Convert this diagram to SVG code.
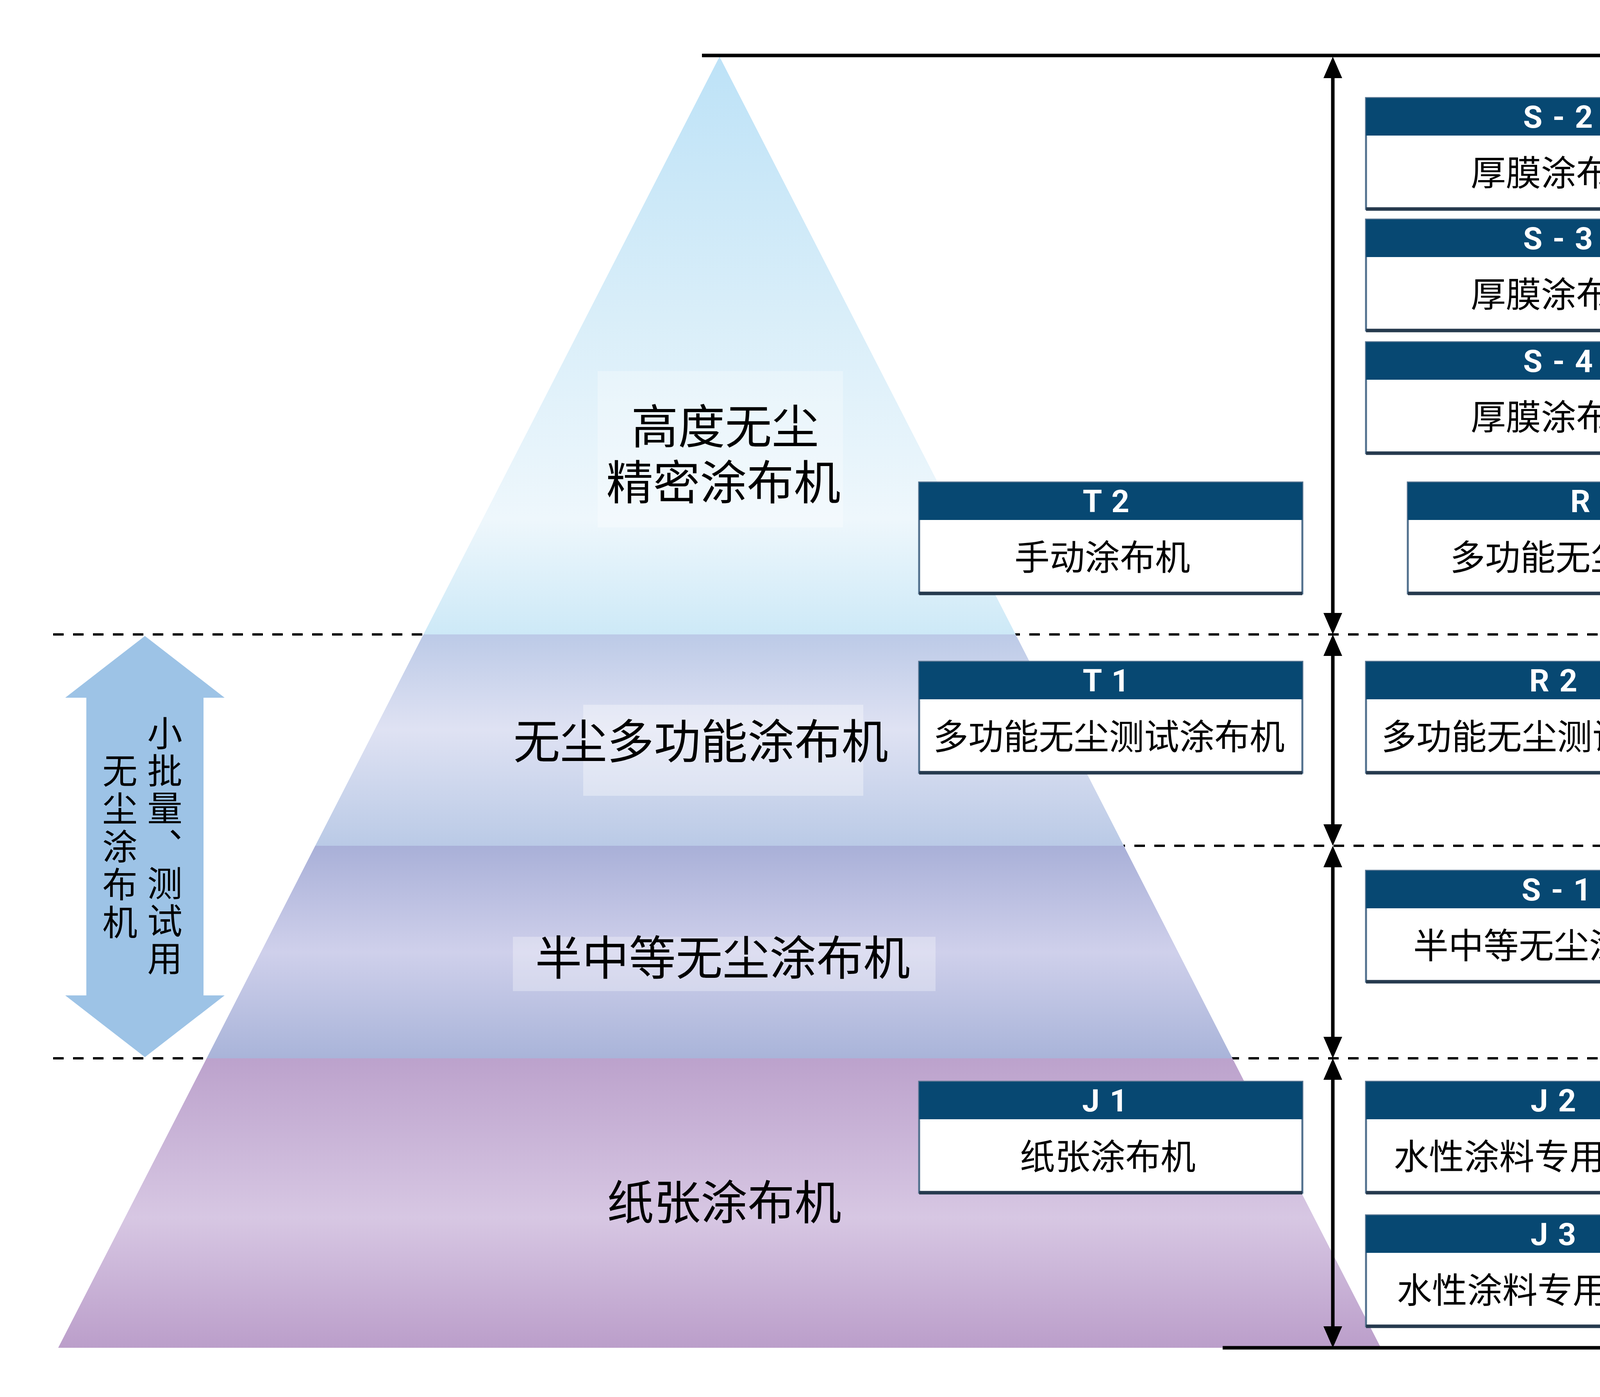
<svg xmlns="http://www.w3.org/2000/svg" width="4730" height="3576" viewBox="0 0 4730 3576">
<style>
.cn{font-family:"Noto Sans CJK SC","Noto Sans",sans-serif;fill:#000}
.lbl{font-size:120px;text-anchor:middle}
.vt{font-size:90px;writing-mode:vertical-rl;text-anchor:start}
.body{fill:#ffffff;stroke:#52718e;stroke-width:5}
.hdr{fill:#074872}
.shadow{stroke:#263a4e;stroke-width:9}
.hl{font-family:Roboto,"Open Sans","Liberation Sans",sans-serif;font-weight:bold;font-size:80px;letter-spacing:3px;fill:#ffffff;text-anchor:middle}
.bl{font-family:"Noto Sans CJK SC","Noto Sans",sans-serif;font-size:90px;fill:#000;text-anchor:middle}
.dash{stroke:#000;stroke-width:6;stroke-dasharray:27 24;fill:none}
.solid{stroke:#000;stroke-width:9;fill:none}
.varrow{stroke:#000;stroke-width:9;fill:none;marker-start:url(#ah);marker-end:url(#ah)}
</style>
<defs>
<marker id="ah" viewBox="0 0 55 48" refX="35" refY="24" markerWidth="55" markerHeight="48" markerUnits="userSpaceOnUse" orient="auto-start-reverse">
<path d="M0,0 L55,24 L0,48 Z" fill="#000"/>
</marker>
<linearGradient id="g1" gradientUnits="userSpaceOnUse" x1="0" y1="145" x2="0" y2="1624">
<stop offset="0" stop-color="#bde2f7"/>
<stop offset="0.45" stop-color="#d9eef9"/>
<stop offset="0.8" stop-color="#eef7fc"/>
<stop offset="1" stop-color="#cde9f7"/>
</linearGradient>
<linearGradient id="g2" gradientUnits="userSpaceOnUse" x1="0" y1="1624" x2="0" y2="2165">
<stop offset="0" stop-color="#bccae7"/>
<stop offset="0.45" stop-color="#dfe2f3"/>
<stop offset="1" stop-color="#bacae6"/>
</linearGradient>
<linearGradient id="g3" gradientUnits="userSpaceOnUse" x1="0" y1="2165" x2="0" y2="2709">
<stop offset="0" stop-color="#a9b0d8"/>
<stop offset="0.5" stop-color="#cfd0eb"/>
<stop offset="1" stop-color="#a9b4d9"/>
</linearGradient>
<linearGradient id="g4" gradientUnits="userSpaceOnUse" x1="0" y1="2709" x2="0" y2="3450">
<stop offset="0" stop-color="#bca2cc"/>
<stop offset="0.55" stop-color="#d7c7e3"/>
<stop offset="1" stop-color="#bb9eca"/>
</linearGradient>
</defs>
<rect width="4730" height="3576" fill="#ffffff"/>

<g id="dividers">
<line class="dash" x1="136" y1="1624" x2="4592" y2="1624"/>
<line class="dash" x1="2700" y1="2165" x2="4592" y2="2165"/>
<line class="dash" x1="136" y1="2709" x2="4592" y2="2709"/>
</g>

<g id="pyramid">
<g id="layer-1">
<polygon points="1842,145 2600,1624 1084,1624" fill="url(#g1)"/>
<rect x="1530" y="950" width="628" height="400" fill="#ffffff" opacity="0.3"/>
<text class="cn lbl" x="1856" y="1136">高度无尘<tspan x="1852" dy="143">精密涂布机</tspan></text>
</g>
<g id="layer-2">
<polygon points="1084,1624 2600,1624 2877,2165 807,2165" fill="url(#g2)"/>
<rect x="1493" y="1804" width="717" height="233" fill="#ffffff" opacity="0.35"/>
<text class="cn lbl" x="1794" y="1942">无尘多功能涂布机</text>
</g>
<g id="layer-3">
<polygon points="807,2165 2877,2165 3155,2709 529,2709" fill="url(#g3)"/>
<rect x="1313" y="2398" width="1082" height="139" fill="#ffffff" opacity="0.3"/>
<text class="cn lbl" x="1850" y="2496">半中等无尘涂布机</text>
</g>
<g id="layer-4">
<polygon points="529,2709 3155,2709 3535,3450 149,3450" fill="url(#g4)"/>
<text class="cn lbl" x="1854" y="3122">纸张涂布机</text>
</g>
</g>

<g id="side-arrow">
<polygon points="371,1628 575,1786 521,1786 521,2548 575,2548 371,2706 167,2548 221,2548 221,1786 167,1786" fill="#9dc3e6"/>
<text class="cn vt" x="422" y="1831" style="letter-spacing:6px">小批量、测试用</text>
<text class="cn vt" x="307" y="1927" style="letter-spacing:7px">无尘涂布机</text>
</g>

<g id="box-s2">
<rect class="body" x="3497" y="251" width="982" height="284"/>
<rect class="hdr" x="3497" y="251" width="982" height="96"/>
<line class="shadow" x1="3497" y1="535" x2="4479" y2="535"/>
<text class="hl" x="3990" y="327">S - 2</text>
<text class="bl" x="3990" y="475">厚膜涂布机</text>
</g>
<g id="box-s3">
<rect class="body" x="3497" y="562" width="982" height="284"/>
<rect class="hdr" x="3497" y="562" width="982" height="96"/>
<line class="shadow" x1="3497" y1="846" x2="4479" y2="846"/>
<text class="hl" x="3990" y="638">S - 3</text>
<text class="bl" x="3990" y="786">厚膜涂布机</text>
</g>
<g id="box-s4">
<rect class="body" x="3497" y="876" width="982" height="284"/>
<rect class="hdr" x="3497" y="876" width="982" height="96"/>
<line class="shadow" x1="3497" y1="1160" x2="4479" y2="1160"/>
<text class="hl" x="3990" y="952">S - 4</text>
<text class="bl" x="3990" y="1100">厚膜涂布机</text>
</g>
<g id="box-t2">
<rect class="body" x="2353" y="1235" width="981" height="284"/>
<rect class="hdr" x="2353" y="1235" width="981" height="96"/>
<line class="shadow" x1="2353" y1="1519" x2="3334" y2="1519"/>
<text class="hl" x="2833" y="1311">T 2</text>
<text class="bl" x="2822" y="1459">手动涂布机</text>
</g>
<g id="box-r1">
<rect class="body" x="3604" y="1235" width="982" height="284"/>
<rect class="hdr" x="3604" y="1235" width="982" height="96"/>
<line class="shadow" x1="3604" y1="1519" x2="4586" y2="1519"/>
<text class="hl" x="4083" y="1311">R 1</text>
<text class="bl" x="4072" y="1459">多功能无尘涂布机</text>
</g>
<g id="box-t1">
<rect class="body" x="2353" y="1694" width="981" height="284"/>
<rect class="hdr" x="2353" y="1694" width="981" height="96"/>
<line class="shadow" x1="2353" y1="1978" x2="3334" y2="1978"/>
<text class="hl" x="2833" y="1770">T 1</text>
<text class="bl" x="2839" y="1918">多功能无尘测试涂布机</text>
</g>
<g id="box-r2">
<rect class="body" x="3497" y="1694" width="982" height="284"/>
<rect class="hdr" x="3497" y="1694" width="982" height="96"/>
<line class="shadow" x1="3497" y1="1978" x2="4479" y2="1978"/>
<text class="hl" x="3978" y="1770">R 2</text>
<text class="bl" x="3986" y="1918">多功能无尘测试涂布机</text>
</g>
<g id="box-s1">
<rect class="body" x="3497" y="2229" width="982" height="284"/>
<rect class="hdr" x="3497" y="2229" width="982" height="96"/>
<line class="shadow" x1="3497" y1="2513" x2="4479" y2="2513"/>
<text class="hl" x="3986" y="2305">S - 1</text>
<text class="bl" x="3978" y="2453">半中等无尘涂布机</text>
</g>
<g id="box-j1">
<rect class="body" x="2353" y="2769" width="981" height="284"/>
<rect class="hdr" x="2353" y="2769" width="981" height="96"/>
<line class="shadow" x1="2353" y1="3053" x2="3334" y2="3053"/>
<text class="hl" x="2830" y="2845">J 1</text>
<text class="bl" x="2836" y="2993">纸张涂布机</text>
</g>
<g id="box-j2">
<rect class="body" x="3497" y="2769" width="982" height="284"/>
<rect class="hdr" x="3497" y="2769" width="982" height="96"/>
<line class="shadow" x1="3497" y1="3053" x2="4479" y2="3053"/>
<text class="hl" x="3978" y="2845">J 2</text>
<text class="bl" x="3973" y="2993">水性涂料专用涂布机</text>
</g>
<g id="box-j3">
<rect class="body" x="3497" y="3111" width="982" height="284"/>
<rect class="hdr" x="3497" y="3111" width="982" height="96"/>
<line class="shadow" x1="3497" y1="3395" x2="4479" y2="3395"/>
<text class="hl" x="3978" y="3187">J 3</text>
<text class="bl" x="3981" y="3335">水性涂料专用涂布机</text>
</g>

<g id="connectors">
<line class="solid" x1="1797" y1="142" x2="4592" y2="142"/>
<line class="solid" x1="3130" y1="3450" x2="4592" y2="3450"/>
<line class="varrow" x1="3412" y1="165" x2="3412" y2="1604"/>
<line class="varrow" x1="3412" y1="1644" x2="3412" y2="2145"/>
<line class="varrow" x1="3412" y1="2185" x2="3412" y2="2689"/>
<line class="varrow" x1="3412" y1="2729" x2="3412" y2="3430"/>
</g>
</svg>
